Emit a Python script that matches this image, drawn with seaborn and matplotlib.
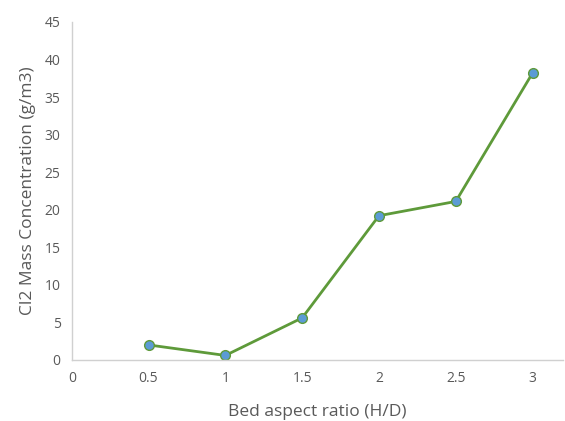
import numpy as np
import pandas as pd
import seaborn as sns
import matplotlib
matplotlib.use("Agg")
import matplotlib.pyplot as plt

# values
aspect_ratio = [0.5, 1.0, 1.5, 2.0, 2.5, 3.0]
cl2_conc = [2.0, 0.6, 5.6, 19.2, 21.1, 38.2]
x_ticks = [0, 0.5, 1, 1.5, 2, 2.5, 3]
x_tick_labels = ["0", "0.5", "1", "1.5", "2", "2.5", "3"]
y_ticks = [0, 5, 10, 15, 20, 25, 30, 35, 40, 45]

sns.set_style("white")
plt.rcParams['font.family'] = ['Open Sans', 'DejaVu Sans']

df = pd.DataFrame({"x": aspect_ratio, "y": cl2_conc})

fig = plt.figure(figsize=(5.65, 4.21), dpi=100)
ax = fig.add_axes([0.127, 0.145, 0.87, 0.803])

sns.lineplot(data=df, x="x", y="y", ax=ax, color="#5E9A3A", linewidth=2,
             marker="o", markersize=7, markerfacecolor="#5B9BD5",
             markeredgecolor="#5E9A3A", markeredgewidth=1)

ax.set_xlim(0, 3.2)
ax.set_ylim(0, 45)
ax.set_xticks(x_ticks)
ax.set_xticklabels(x_tick_labels)
ax.set_yticks(y_ticks)
ax.tick_params(axis="both", length=0, labelsize=10, colors="#595959", pad=8)

for side in ["top", "right"]:
    ax.spines[side].set_visible(False)
for side in ["left", "bottom"]:
    ax.spines[side].set_color("#D0D0D0")
    ax.spines[side].set_linewidth(1)

ax.set_xlabel("Bed aspect ratio (H/D)", fontsize=12.5, color="#595959", labelpad=13)
ax.set_ylabel("Cl2 Mass Concentration (g/m3)", fontsize=12.5, color="#595959", labelpad=6)

fig.savefig("out.png", dpi=100)
